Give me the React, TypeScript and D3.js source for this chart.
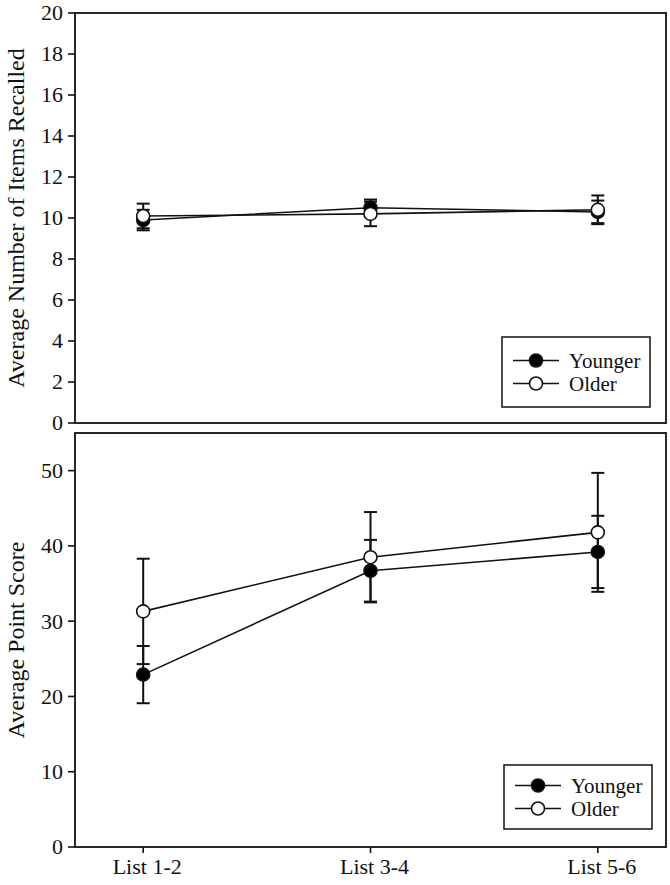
import * as d3 from "d3";

// data
const lists = ["List 1-2", "List 3-4", "List 5-6"];
const groups = ["Younger", "Older"];

const recallYounger = [9.9, 10.5, 10.3];
const recallYoungerErr = [0.5, 0.4, 0.55];
const recallOlder = [10.1, 10.2, 10.4];
const recallOlderErr = [0.6, 0.6, 0.7];

const scoreYounger = [22.9, 36.7, 39.2];
const scoreYoungerErr = [3.8, 4.1, 4.8];
const scoreOlder = [31.3, 38.5, 41.8];
const scoreOlderErr = [7.0, 6.0, 7.9];

const recallTicks = [0, 2, 4, 6, 8, 10, 12, 14, 16, 18, 20];
const scoreTicks = [0, 10, 20, 30, 40, 50];

const W = 670;
const H = 885;
const FONT = "Times New Roman, Liberation Serif, DejaVu Serif, serif";
const left = 75;
const right = 666;

const x = d3.scalePoint<string>().domain(lists).range([left, right]).padding(0.3);

interface Series {
  name: string;
  values: number[];
  errs: number[];
  fill: string;
}

interface PanelProps {
  top: number;
  bottom: number;
  domain: [number, number];
  ticks: number[];
  title: string;
  series: Series[];
  legend: { x: number; y: number; w: number; h: number; gap: number };
  xAxis?: boolean;
}

const Panel = ({ top, bottom, domain, ticks, title, series, legend, xAxis }: PanelProps) => {
  const y = d3.scaleLinear().domain(domain).range([bottom, top]);
  const line = d3
    .line<number>()
    .x((_, i) => x(lists[i]) as number)
    .y((d) => y(d));

  return (
    <g>
      <rect x={left} y={top} width={right - left} height={bottom - top} fill="none" stroke="#111" strokeWidth={1.8} />
      {ticks.map((t) => (
        <g key={t}>
          <line x1={left - 7} x2={left} y1={y(t)} y2={y(t)} stroke="#111" strokeWidth={1.6} />
          <text x={63} y={y(t)} dy="0.34em" textAnchor="end" fontSize={22}>
            {t}
          </text>
        </g>
      ))}
      <text transform={`translate(24,${(top + bottom) / 2}) rotate(-90)`} textAnchor="middle" fontSize={24}>
        {title}
      </text>
      {xAxis &&
        lists.map((l) => (
          <g key={l}>
            <line x1={x(l)} x2={x(l)} y1={bottom} y2={bottom + 6} stroke="#111" strokeWidth={1.6} />
            <text x={(x(l) as number) + 4} y={bottom + 27} textAnchor="middle" fontSize={22}>
              {l}
            </text>
          </g>
        ))}
      {/* error bars first, then lines and markers */}
      {series.map((s) =>
        s.values.map((v, i) => {
          const cx = x(lists[i]) as number;
          const hi = y(v + s.errs[i]);
          const lo = y(v - s.errs[i]);
          return (
            <g key={s.name + i} stroke="#111" strokeWidth={2}>
              <line x1={cx} x2={cx} y1={hi} y2={lo} />
              <line x1={cx - 6.5} x2={cx + 6.5} y1={hi} y2={hi} />
              <line x1={cx - 6.5} x2={cx + 6.5} y1={lo} y2={lo} />
            </g>
          );
        })
      )}
      {series.map((s) => (
        <g key={s.name}>
          <path d={line(s.values) as string} fill="none" stroke="#111" strokeWidth={1.6} />
          {s.values.map((v, i) => (
            <circle key={i} cx={x(lists[i])} cy={y(v)} r={6.5} fill={s.fill} stroke="#111" strokeWidth={1.6} />
          ))}
        </g>
      ))}
      <rect x={legend.x} y={legend.y} width={legend.w} height={legend.h} fill="#fff" stroke="#111" strokeWidth={1.5} />
      {series.map((s, i) => {
        const ly = legend.y + legend.h / 2 - legend.gap / 2 + i * legend.gap;
        return (
          <g key={s.name}>
            <line x1={legend.x + 11} x2={legend.x + 57} y1={ly} y2={ly} stroke="#111" strokeWidth={1.6} />
            <circle cx={legend.x + 34} cy={ly} r={6.5} fill={s.fill} stroke="#111" strokeWidth={1.6} />
            <text x={legend.x + 67} y={ly} dy="0.34em" fontSize={21}>
              {s.name}
            </text>
          </g>
        );
      })}
    </g>
  );
};

export default function App() {
  const recallSeries: Series[] = [
    { name: groups[0], values: recallYounger, errs: recallYoungerErr, fill: "#000" },
    { name: groups[1], values: recallOlder, errs: recallOlderErr, fill: "#fff" },
  ];
  const scoreSeries: Series[] = [
    { name: groups[0], values: scoreYounger, errs: scoreYoungerErr, fill: "#000" },
    { name: groups[1], values: scoreOlder, errs: scoreOlderErr, fill: "#fff" },
  ];

  return (
    <svg
      width={W}
      height={H}
      style={{ position: "absolute", left: 0, top: 0, background: "#fff", fontFamily: FONT, fill: "#111" }}
    >
      <rect width={W} height={H} fill="#fff" />
      <Panel
        top={13}
        bottom={423}
        domain={[0, 20]}
        ticks={recallTicks}
        title="Average Number of Items Recalled"
        series={recallSeries}
        legend={{ x: 502, y: 337, w: 148, h: 70, gap: 23 }}
      />
      <Panel
        top={433}
        bottom={847}
        domain={[0, 55]}
        ticks={scoreTicks}
        title="Average Point Score"
        series={scoreSeries}
        legend={{ x: 504, y: 765, w: 148, h: 64, gap: 23 }}
        xAxis
      />
    </svg>
  );
}
